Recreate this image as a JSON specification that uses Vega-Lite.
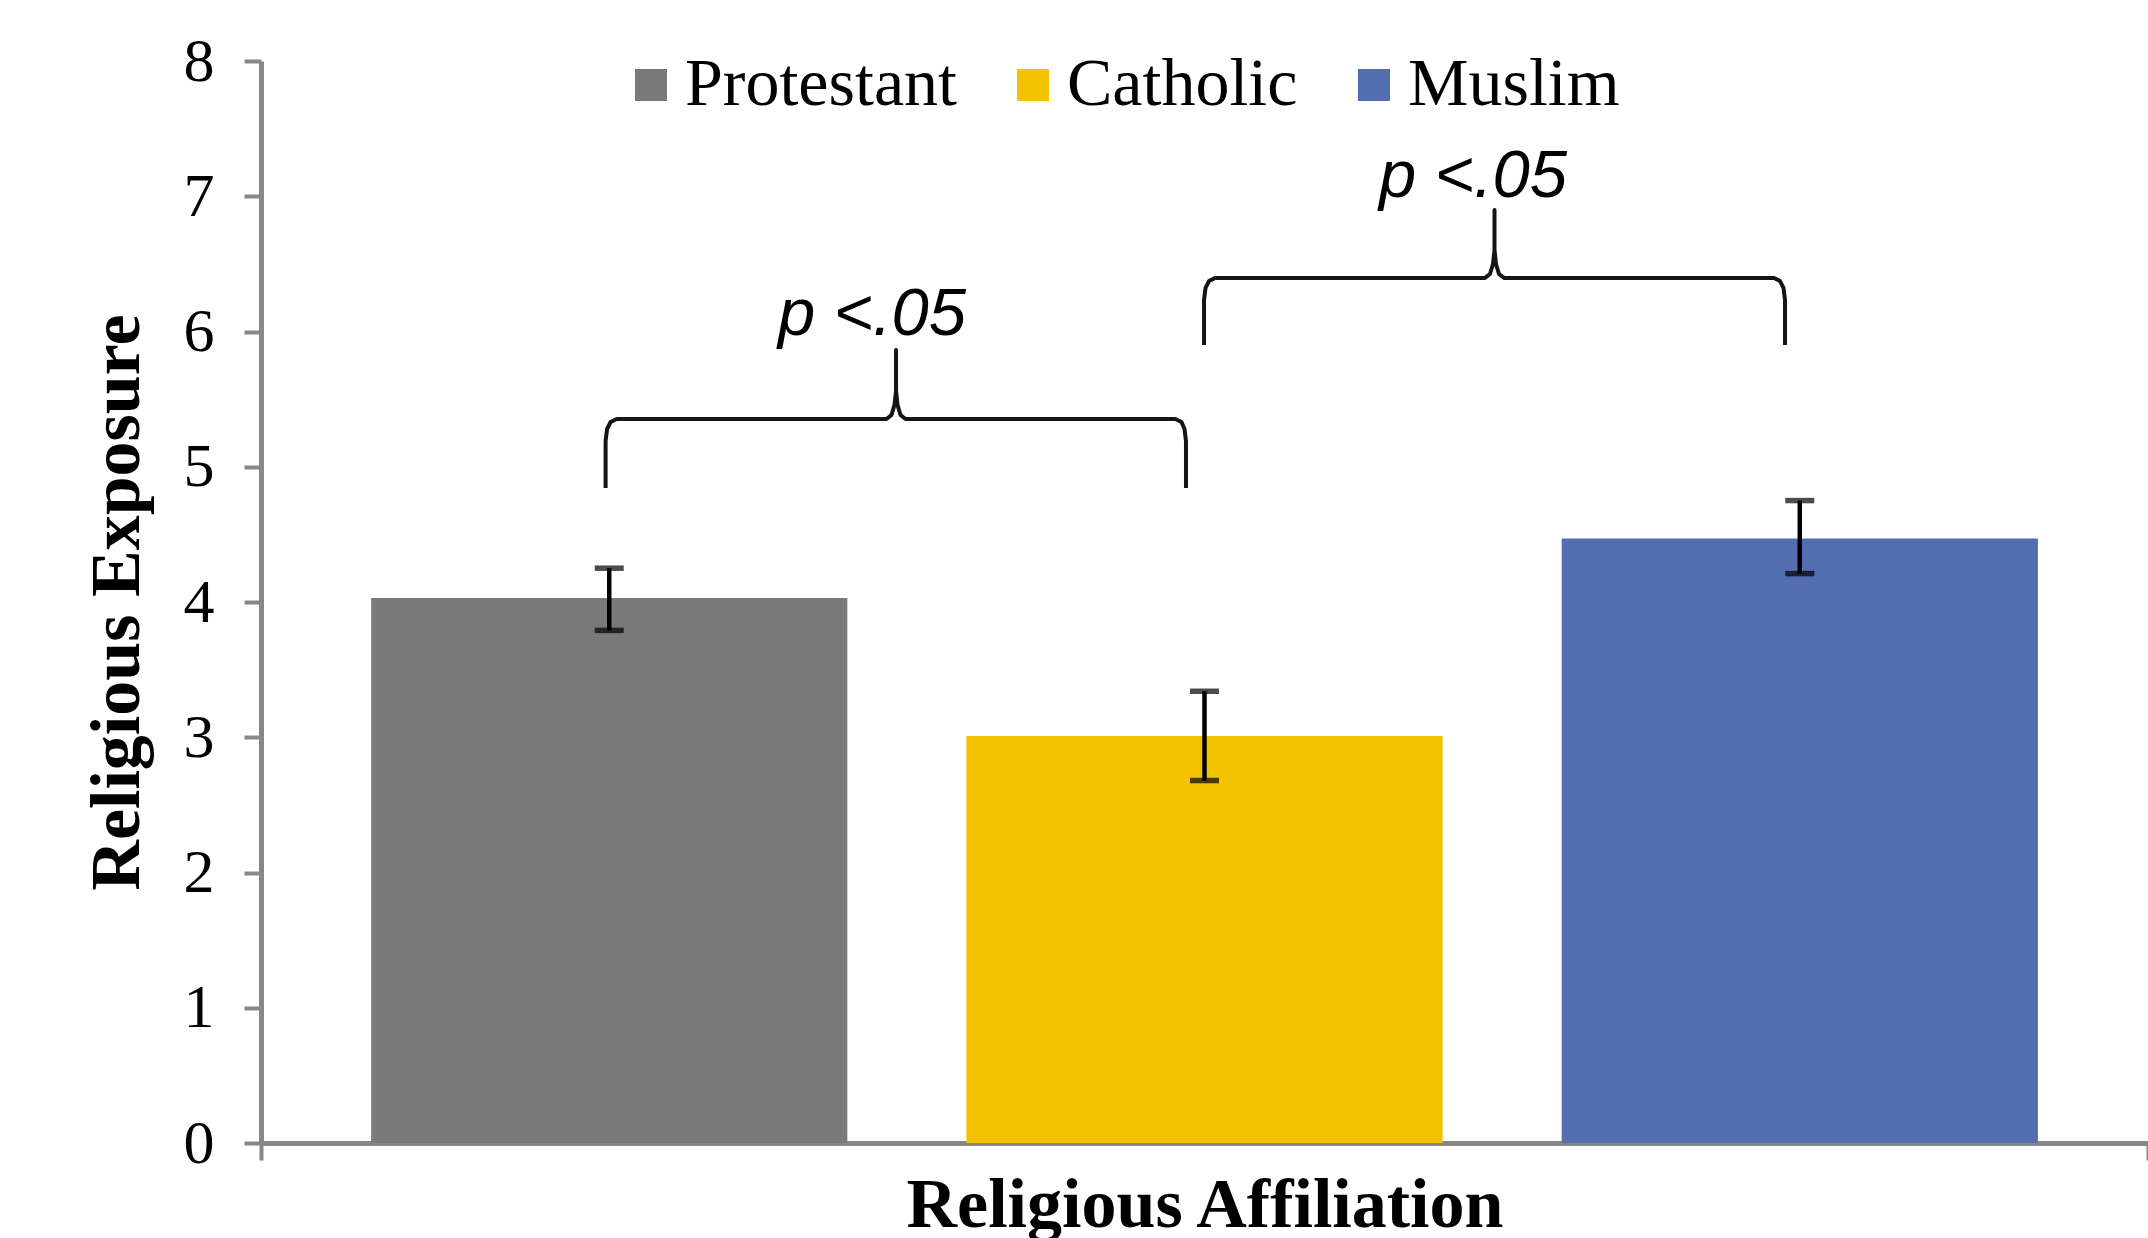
{
  "$schema": "https://vega.github.io/schema/vega-lite/v6.json",
  "width": 1887,
  "height": 1082,
  "autosize": {"type": "none"},
  "padding": {"left": 261, "top": 61, "right": 0, "bottom": 95},
  "background": "white",
  "config": {"view": {"stroke": null}},
  "datasets": {
    "means": [
      {"religion": "Protestant", "mean": 4.03, "lo": 3.79, "hi": 4.25},
      {"religion": "Catholic", "mean": 3.01, "lo": 2.68, "hi": 3.34},
      {"religion": "Muslim", "mean": 4.47, "lo": 4.21, "hi": 4.75}
    ],
    "braces": [
      {"brace": "A", "seq": 1, "bx": -0.0061, "by": 4.843},
      {"brace": "A", "seq": 2, "bx": -0.0061, "by": 5.19},
      {"brace": "A", "seq": 3, "bx": -0.0036, "by": 5.279},
      {"brace": "A", "seq": 4, "bx": 0.0023, "by": 5.331},
      {"brace": "A", "seq": 5, "bx": 0.0124, "by": 5.353},
      {"brace": "A", "seq": 6, "bx": 0.4658, "by": 5.353},
      {"brace": "A", "seq": 7, "bx": 0.4742, "by": 5.383},
      {"brace": "A", "seq": 8, "bx": 0.4792, "by": 5.457},
      {"brace": "A", "seq": 9, "bx": 0.4818, "by": 5.56},
      {"brace": "A", "seq": 10, "bx": 0.4818, "by": 5.863},
      {"brace": "A", "seq": 11, "bx": 0.4818, "by": 5.56},
      {"brace": "A", "seq": 12, "bx": 0.4843, "by": 5.457},
      {"brace": "A", "seq": 13, "bx": 0.4893, "by": 5.383},
      {"brace": "A", "seq": 14, "bx": 0.4977, "by": 5.353},
      {"brace": "A", "seq": 15, "bx": 0.9513, "by": 5.353},
      {"brace": "A", "seq": 16, "bx": 0.9614, "by": 5.331},
      {"brace": "A", "seq": 17, "bx": 0.9664, "by": 5.279},
      {"brace": "A", "seq": 18, "bx": 0.9689, "by": 5.19},
      {"brace": "A", "seq": 19, "bx": 0.9689, "by": 4.843},
      {"brace": "B", "seq": 1, "bx": 0.9992, "by": 5.9},
      {"brace": "B", "seq": 2, "bx": 0.9992, "by": 6.233},
      {"brace": "B", "seq": 3, "bx": 1.0017, "by": 6.322},
      {"brace": "B", "seq": 4, "bx": 1.0076, "by": 6.373},
      {"brace": "B", "seq": 5, "bx": 1.0176, "by": 6.396},
      {"brace": "B", "seq": 6, "bx": 1.4712, "by": 6.396},
      {"brace": "B", "seq": 7, "bx": 1.4796, "by": 6.425},
      {"brace": "B", "seq": 8, "bx": 1.4847, "by": 6.499},
      {"brace": "B", "seq": 9, "bx": 1.4872, "by": 6.603},
      {"brace": "B", "seq": 10, "bx": 1.4872, "by": 6.898},
      {"brace": "B", "seq": 11, "bx": 1.4872, "by": 6.603},
      {"brace": "B", "seq": 12, "bx": 1.4897, "by": 6.499},
      {"brace": "B", "seq": 13, "bx": 1.4947, "by": 6.425},
      {"brace": "B", "seq": 14, "bx": 1.5031, "by": 6.396},
      {"brace": "B", "seq": 15, "bx": 1.9567, "by": 6.396},
      {"brace": "B", "seq": 16, "bx": 1.9668, "by": 6.373},
      {"brace": "B", "seq": 17, "bx": 1.9727, "by": 6.322},
      {"brace": "B", "seq": 18, "bx": 1.9752, "by": 6.233},
      {"brace": "B", "seq": 19, "bx": 1.9752, "by": 5.9}
    ],
    "notes": [
      {"label": "p <.05", "tx": 0.4414, "ty": 5.974},
      {"label": "p <.05", "tx": 1.4511, "ty": 6.995}
    ]
  },
  "resolve": {"scale": {"x": "independent"}, "axis": {"x": "independent"}},
  "layer": [
    {
      "data": {"name": "means"},
      "encoding": {
        "x": {
          "field": "religion",
          "type": "nominal",
          "sort": ["Protestant", "Catholic", "Muslim"],
          "scale": {"type": "band", "paddingInner": 0.2, "paddingOuter": 0.185},
          "axis": null
        }
      },
      "layer": [
        {
          "mark": {"type": "bar"},
          "encoding": {
            "y": {
              "field": "mean",
              "type": "quantitative",
              "scale": {"domain": [0, 8], "nice": false, "zero": true},
              "axis": {"values": [0, 1, 2, 3, 4, 5, 6, 7, 8], "format": "d", "grid": false, "domainColor": "#878787", "domainWidth": 5, "tickColor": "#878787", "tickWidth": 4, "tickSize": 17, "labelFont": "Liberation Serif", "labelFontSize": 62, "labelColor": "#000000", "labelPadding": 30, "title": "Religious Exposure", "titleFont": "Liberation Serif", "titleFontWeight": "bold", "titleFontSize": 70, "titleColor": "#000000", "titleAngle": -90, "titleBaseline": "alphabetic", "titleX": -123}
            },
            "color": {
              "field": "religion",
              "type": "nominal",
              "scale": {
                "domain": ["Protestant", "Catholic", "Muslim"],
                "range": ["#7a7a7a", "#f3c300", "#526db0"]
              },
              "legend": {
                "title": null,
                "orient": "none",
                "direction": "horizontal",
                "legendX": 356,
                "legendY": -10,
                "padding": 0,
                "symbolType": "square",
                "symbolSize": 1024,
                "symbolStrokeWidth": 0,
                "labelFont": "Liberation Serif",
                "labelFontSize": 68,
                "labelColor": "#000000",
                "labelOffset": 0,
                "columnPadding": 42,
                "labelLimit": 0
              }
            }
          }
        },
        {
          "mark": {"type": "rule", "color": "#000000", "strokeWidth": 4.5},
          "encoding": {
            "y": {"field": "lo", "type": "quantitative", "axis": {"values": [0, 1, 2, 3, 4, 5, 6, 7, 8], "format": "d", "grid": false, "domainColor": "#878787", "domainWidth": 5, "tickColor": "#878787", "tickWidth": 4, "tickSize": 17, "labelFont": "Liberation Serif", "labelFontSize": 62, "labelColor": "#000000", "labelPadding": 30, "title": "Religious Exposure", "titleFont": "Liberation Serif", "titleFontWeight": "bold", "titleFontSize": 70, "titleColor": "#000000", "titleAngle": -90, "titleBaseline": "alphabetic", "titleX": -123}},
            "y2": {"field": "hi"}
          }
        },
        {
          "mark": {"type": "tick", "color": "#000000", "size": 29, "thickness": 5.5, "orient": "horizontal"},
          "encoding": {
            "y": {"field": "lo", "type": "quantitative", "axis": {"values": [0, 1, 2, 3, 4, 5, 6, 7, 8], "format": "d", "grid": false, "domainColor": "#878787", "domainWidth": 5, "tickColor": "#878787", "tickWidth": 4, "tickSize": 17, "labelFont": "Liberation Serif", "labelFontSize": 62, "labelColor": "#000000", "labelPadding": 30, "title": "Religious Exposure", "titleFont": "Liberation Serif", "titleFontWeight": "bold", "titleFontSize": 70, "titleColor": "#000000", "titleAngle": -90, "titleBaseline": "alphabetic", "titleX": -123}}
          }
        },
        {
          "mark": {"type": "tick", "color": "#000000", "size": 29, "thickness": 5.5, "orient": "horizontal"},
          "encoding": {
            "y": {"field": "hi", "type": "quantitative", "axis": {"values": [0, 1, 2, 3, 4, 5, 6, 7, 8], "format": "d", "grid": false, "domainColor": "#878787", "domainWidth": 5, "tickColor": "#878787", "tickWidth": 4, "tickSize": 17, "labelFont": "Liberation Serif", "labelFontSize": 62, "labelColor": "#000000", "labelPadding": 30, "title": "Religious Exposure", "titleFont": "Liberation Serif", "titleFontWeight": "bold", "titleFontSize": 70, "titleColor": "#000000", "titleAngle": -90, "titleBaseline": "alphabetic", "titleX": -123}}
          }
        }
      ]
    },
    {
      "layer": [
        {
          "data": {"name": "braces"},
          "mark": {"type": "line", "color": "#151515", "strokeWidth": 4, "strokeJoin": "round", "interpolate": "linear"},
          "encoding": {
            "x": {
              "field": "bx",
              "type": "quantitative",
              "scale": {"domain": [-0.585, 2.585], "nice": false, "zero": false},
              "axis": {
                "values": [-0.585, 2.585],
                "labels": false,
                "grid": false,
                "ticks": true,
                "tickSize": 17,
                "tickWidth": 4,
                "tickColor": "#878787",
                "domainColor": "#878787",
                "domainWidth": 5,
                "title": "Religious Affiliation",
                "titleFont": "Liberation Serif",
                "titleFontWeight": "bold",
                "titleFontSize": 70,
                "titleColor": "#000000",
                "titleBaseline": "alphabetic",
                "titleY": 83
              }
            },
            "y": {"field": "by", "type": "quantitative", "axis": {"values": [0, 1, 2, 3, 4, 5, 6, 7, 8], "format": "d", "grid": false, "domainColor": "#878787", "domainWidth": 5, "tickColor": "#878787", "tickWidth": 4, "tickSize": 17, "labelFont": "Liberation Serif", "labelFontSize": 62, "labelColor": "#000000", "labelPadding": 30, "title": "Religious Exposure", "titleFont": "Liberation Serif", "titleFontWeight": "bold", "titleFontSize": 70, "titleColor": "#000000", "titleAngle": -90, "titleBaseline": "alphabetic", "titleX": -123}},
            "detail": {"field": "brace"},
            "order": {"field": "seq", "type": "quantitative"}
          }
        },
        {
          "data": {"name": "notes"},
          "mark": {"type": "text", "font": "Liberation Sans", "fontStyle": "italic", "fontSize": 67, "align": "center", "baseline": "alphabetic", "color": "#000000"},
          "encoding": {
            "x": {"field": "tx", "type": "quantitative"},
            "y": {"field": "ty", "type": "quantitative", "axis": {"values": [0, 1, 2, 3, 4, 5, 6, 7, 8], "format": "d", "grid": false, "domainColor": "#878787", "domainWidth": 5, "tickColor": "#878787", "tickWidth": 4, "tickSize": 17, "labelFont": "Liberation Serif", "labelFontSize": 62, "labelColor": "#000000", "labelPadding": 30, "title": "Religious Exposure", "titleFont": "Liberation Serif", "titleFontWeight": "bold", "titleFontSize": 70, "titleColor": "#000000", "titleAngle": -90, "titleBaseline": "alphabetic", "titleX": -123}},
            "text": {"field": "label"}
          }
        }
      ]
    }
  ]
}
